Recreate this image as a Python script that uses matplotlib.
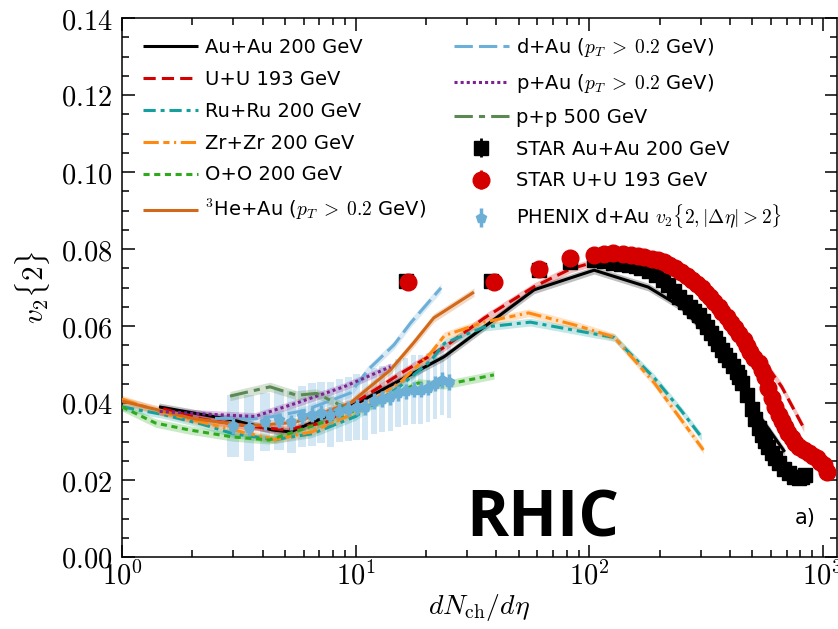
import numpy as np
import matplotlib
matplotlib.use("Agg")
import matplotlib.pyplot as plt
from matplotlib.lines import Line2D

plt.rcParams['mathtext.fontset'] = 'cm'
plt.rcParams['font.family'] = ['DejaVu Sans']

# ---- model curves: dN/deta and v2{2} ----
auau_x = [1.44, 2.97, 4.4, 5.26, 10.2, 15.6, 23.9, 35.4, 58.1, 105, 179, 248, 369, 496, 687]
auau_y = [0.039, 0.0356, 0.033, 0.0325, 0.040, 0.046, 0.052, 0.0597, 0.0694, 0.0745, 0.0701, 0.0649, 0.0538, 0.0395, 0.0273]

uu_x = [1.5, 2.2, 3.5, 5.0, 7.5, 10.2, 15.6, 24, 35.4, 58, 83, 105, 150, 250, 350, 449, 481, 667, 829]
uu_y = [0.0385, 0.0358, 0.034, 0.033, 0.035, 0.0405, 0.0477, 0.0545, 0.062, 0.0702, 0.0748, 0.0766, 0.0768, 0.0735, 0.0655, 0.0582, 0.0564, 0.0442, 0.0335]

ru_x = [1.0, 1.5, 2.2, 3.0, 4.5, 6.5, 10, 15.6, 21, 24, 35.4, 56, 128, 190, 248, 302]
ru_y = [0.039, 0.037, 0.0345, 0.032, 0.0305, 0.032, 0.0365, 0.0445, 0.051, 0.0555, 0.0597, 0.0610, 0.0570, 0.0465, 0.038, 0.0312]

zr_x = [1.0, 1.5, 2.2, 3.0, 4.5, 6.5, 10, 15.6, 21, 24, 35.4, 55, 90, 128, 190, 248, 308]
zr_y = [0.041, 0.0375, 0.035, 0.033, 0.0305, 0.0325, 0.0375, 0.0455, 0.053, 0.0575, 0.061, 0.0634, 0.0600, 0.0571, 0.0452, 0.0356, 0.0278]

oo_x = [1.0, 1.39, 1.94, 2.97, 4.27, 7.81, 13.2, 18.5, 23.9, 39.1]
oo_y = [0.039, 0.0348, 0.033, 0.0312, 0.0304, 0.0356, 0.0408, 0.0452, 0.0447, 0.0473]

heau_x = [1.0, 2.0, 3.5, 5.5, 9.5, 14.1, 17.7, 21.6, 32.1]
heau_y = [0.0405, 0.036, 0.034, 0.035, 0.040, 0.0486, 0.0556, 0.0621, 0.0688]

dau_x = [2.5, 4.0, 6.0, 9.5, 11.3, 14.6, 17.2, 23.2]
dau_y = [0.036, 0.036, 0.038, 0.0426, 0.0486, 0.0551, 0.0608, 0.0699]

pau_x = [1.45, 2.5, 3.7, 5.6, 8.9, 14.1]
pau_y = [0.0378, 0.037, 0.0365, 0.040, 0.0442, 0.0494]

pp_x = [2.9, 4.3, 5.6, 6.8, 8.9]
pp_y = [0.0418, 0.0442, 0.042, 0.0425, 0.039]

# ---- measurements ----
star_auau_x = [16.4, 38.0, 61.0, 82.9, 105, 116, 126.8, 137, 148.5, 158, 167, 180, 194, 206, 218, 230,
               243, 256, 269, 281, 294, 306, 318, 331, 344, 356, 369, 382, 395, 411, 428, 438, 449,
               472, 496, 513, 531, 547, 564, 584, 604, 626, 648, 680, 715, 750, 789, 815, 837]
star_auau_y = [0.0717, 0.0717, 0.0745, 0.0766, 0.0771, 0.0768, 0.0764, 0.0761, 0.0758, 0.0755, 0.0751,
               0.0742, 0.0732, 0.0720, 0.0706, 0.0691, 0.0675, 0.0662, 0.0649, 0.0639, 0.0629, 0.0613,
               0.0597, 0.0583, 0.0569, 0.0554, 0.0538, 0.0525, 0.0512, 0.0497, 0.0481, 0.0467, 0.0452,
               0.0420, 0.0384, 0.0358, 0.0336, 0.0318, 0.0302, 0.0285, 0.0270, 0.0256, 0.0243, 0.0228,
               0.0217, 0.0209, 0.0205, 0.0207, 0.0212]

star_uu_x = [16.7, 39.1, 61.0, 82.9, 105, 116, 126.8, 139, 151.4, 162, 172.2, 185, 197.8, 209, 220.4,
             234, 248.3, 261, 274.1, 288, 302.5, 315, 327.3, 342, 357.8, 372, 387.3, 403, 419.2, 438,
             458.1, 472, 486, 508, 531, 547, 564, 584, 604, 625, 648, 667, 687, 711, 736, 762, 789,
             830, 871, 905, 942, 975, 1010, 1040]
star_uu_y = [0.0714, 0.0714, 0.0748, 0.0777, 0.0784, 0.0788, 0.0790, 0.0788, 0.0784, 0.0782, 0.0779,
             0.0775, 0.0771, 0.0765, 0.0758, 0.0750, 0.0740, 0.0730, 0.0719, 0.0709, 0.0699, 0.0687,
             0.0675, 0.0662, 0.0649, 0.0636, 0.0623, 0.0609, 0.0595, 0.0580, 0.0564, 0.0548, 0.0532,
             0.0518, 0.0504, 0.0486, 0.0468, 0.0440, 0.0412, 0.0390, 0.0370, 0.0353, 0.0338, 0.0322,
             0.0309, 0.0297, 0.0286, 0.0277, 0.0270, 0.0263, 0.0256, 0.0248, 0.0239, 0.0220]

phenix_x = [3.0, 3.5, 4.1, 4.7, 5.3, 5.9, 6.5, 7.1, 7.8, 8.5, 9.3, 10.1, 11.0, 12.0, 13.0, 14.1,
            15.2, 16.4, 17.7, 19.0, 20.4, 21.9, 23.4, 25.0]
phenix_y = [0.034, 0.0335, 0.035, 0.0355, 0.035, 0.0365, 0.037, 0.0375, 0.037, 0.038, 0.0385, 0.039,
            0.039, 0.0405, 0.041, 0.0415, 0.0425, 0.043, 0.0435, 0.0435, 0.044, 0.045, 0.046, 0.0455]
phenix_err = [0.008, 0.0085, 0.0075, 0.0078, 0.008, 0.0078, 0.0082, 0.008, 0.0085, 0.0082, 0.0083, 0.0085,
              0.0085, 0.0085, 0.0086, 0.0087, 0.0088, 0.0088, 0.009, 0.009, 0.009, 0.0091, 0.0092, 0.0093]

fig = plt.figure(figsize=(8.38, 6.29), dpi=100)
ax = fig.add_axes([122/838, 72/629, 715/838, 539/629])
ax.set_xscale('log')

LW = 2.2
PT = r'($p_T\;>\;0.2$ GeV)'
model_styles = [
    # x, y, color, dashes, label, band half-width
    (auau_x, auau_y, 'black', None, 'Au+Au 200 GeV', 0.0010),
    (uu_x, uu_y, '#d40000', (4, 2), 'U+U 193 GeV', 0.0010),
    (ru_x, ru_y, '#15a0a0', (4, 1.6, 1.3, 1.6), 'Ru+Ru 200 GeV', 0.0010),
    (zr_x, zr_y, '#ff8a12', (5, 1.5, 2, 1.5, 0.7, 1.5), 'Zr+Zr 200 GeV', 0.0010),
    (oo_x, oo_y, '#2faa1c', (2, 1.5), 'O+O 200 GeV', 0.0011),
    (heau_x, heau_y, '#d2691a', None, r'$^3$He+Au ' + PT, 0.0011),
]
pa_styles = [
    (dau_x, dau_y, '#6cafd8', (6, 2), 'd+Au ' + PT, 0.0011),
    (pau_x, pau_y, '#7b2490', (1, 1), 'p+Au ' + PT, 0.0010),
    (pp_x, pp_y, '#5a8a52', (6, 2, 2, 2), 'p+p 500 GeV', 0.0012),
]

handles = []
for x, y, c, d, lab, bw in model_styles + pa_styles:
    x = np.asarray(x)
    y = np.asarray(y)
    ax.fill_between(x, y - bw, y + bw, color=c, alpha=0.25, lw=0, zorder=2)
    kw = dict(color=c, lw=LW, zorder=3, solid_capstyle='butt', dash_capstyle='butt')
    if d is not None:
        kw['dashes'] = d
    ax.plot(x, y, **kw)
    handles.append(Line2D([], [], label=lab, **kw))

# PHENIX d+Au with systematic boxes
px = np.asarray(phenix_x)
py = np.asarray(phenix_y)
pe = np.asarray(phenix_err)
ax.bar(px, 2 * pe, bottom=py - pe, width=0.2 * np.sqrt(px), color='#a9cfe8',
       alpha=0.5, lw=0, zorder=1)
ph = ax.errorbar(px, py, yerr=0.002, fmt='p', color='#6baed6', ms=7, elinewidth=2.5,
                 capsize=0, zorder=4, label=r'PHENIX d+Au $v_2\{2,|\Delta\eta|>2\}$')

sa = ax.errorbar(star_auau_x, star_auau_y, yerr=0.0008, fmt='s', color='black', ms=10.5,
                 elinewidth=2, capsize=0, zorder=5, label='STAR Au+Au 200 GeV')
su = ax.errorbar(star_uu_x, star_uu_y, yerr=0.0008, fmt='o', color='#d40000', ms=12,
                 elinewidth=2, capsize=0, zorder=6, label='STAR U+U 193 GeV')

handles += [sa, su, ph]

ax.set_xlim(1, 1150)
ax.set_ylim(0, 0.14)
ax.set_yticks(np.arange(0, 0.141, 0.02))
ax.set_yticks(np.arange(0, 0.141, 0.005), minor=True)
ax.set_yticklabels([r'$%.2f$' % v for v in np.arange(0, 0.141, 0.02)])
ax.set_xticks([1, 10, 100, 1000])
ax.set_xticklabels([r'$10^{0}$', r'$10^{1}$', r'$10^{2}$', r'$10^{3}$'])
ax.tick_params(which='both', direction='in', top=True, right=True, labelsize=20.5, width=1.1)
ax.tick_params(which='major', length=9)
ax.tick_params(which='minor', length=5)
ax.tick_params(axis='y', which='major', pad=7)
for s in ax.spines.values():
    s.set_linewidth(1.1)

ax.set_xlabel(r'$dN_{\rm ch}/d\eta$', fontsize=20, labelpad=1)
ax.set_ylabel(r'$v_2\{2\}$', fontsize=21, labelpad=6)

leg = ax.legend(handles=handles, ncol=2, loc='upper left', bbox_to_anchor=(0.005, 0.999),
                frameon=False, fontsize=14, handlelength=2.85, handletextpad=0.35,
                labelspacing=0.66, columnspacing=1.4, numpoints=1)

ax.text(0.589, 0.069, 'RHIC', transform=ax.transAxes, fontsize=46, fontweight='bold',
        family='Open Sans', ha='center', va='center')
ax.text(0.955, 0.072, 'a)', transform=ax.transAxes, fontsize=15, ha='center', va='center')

fig.savefig('out.png', dpi=100)
